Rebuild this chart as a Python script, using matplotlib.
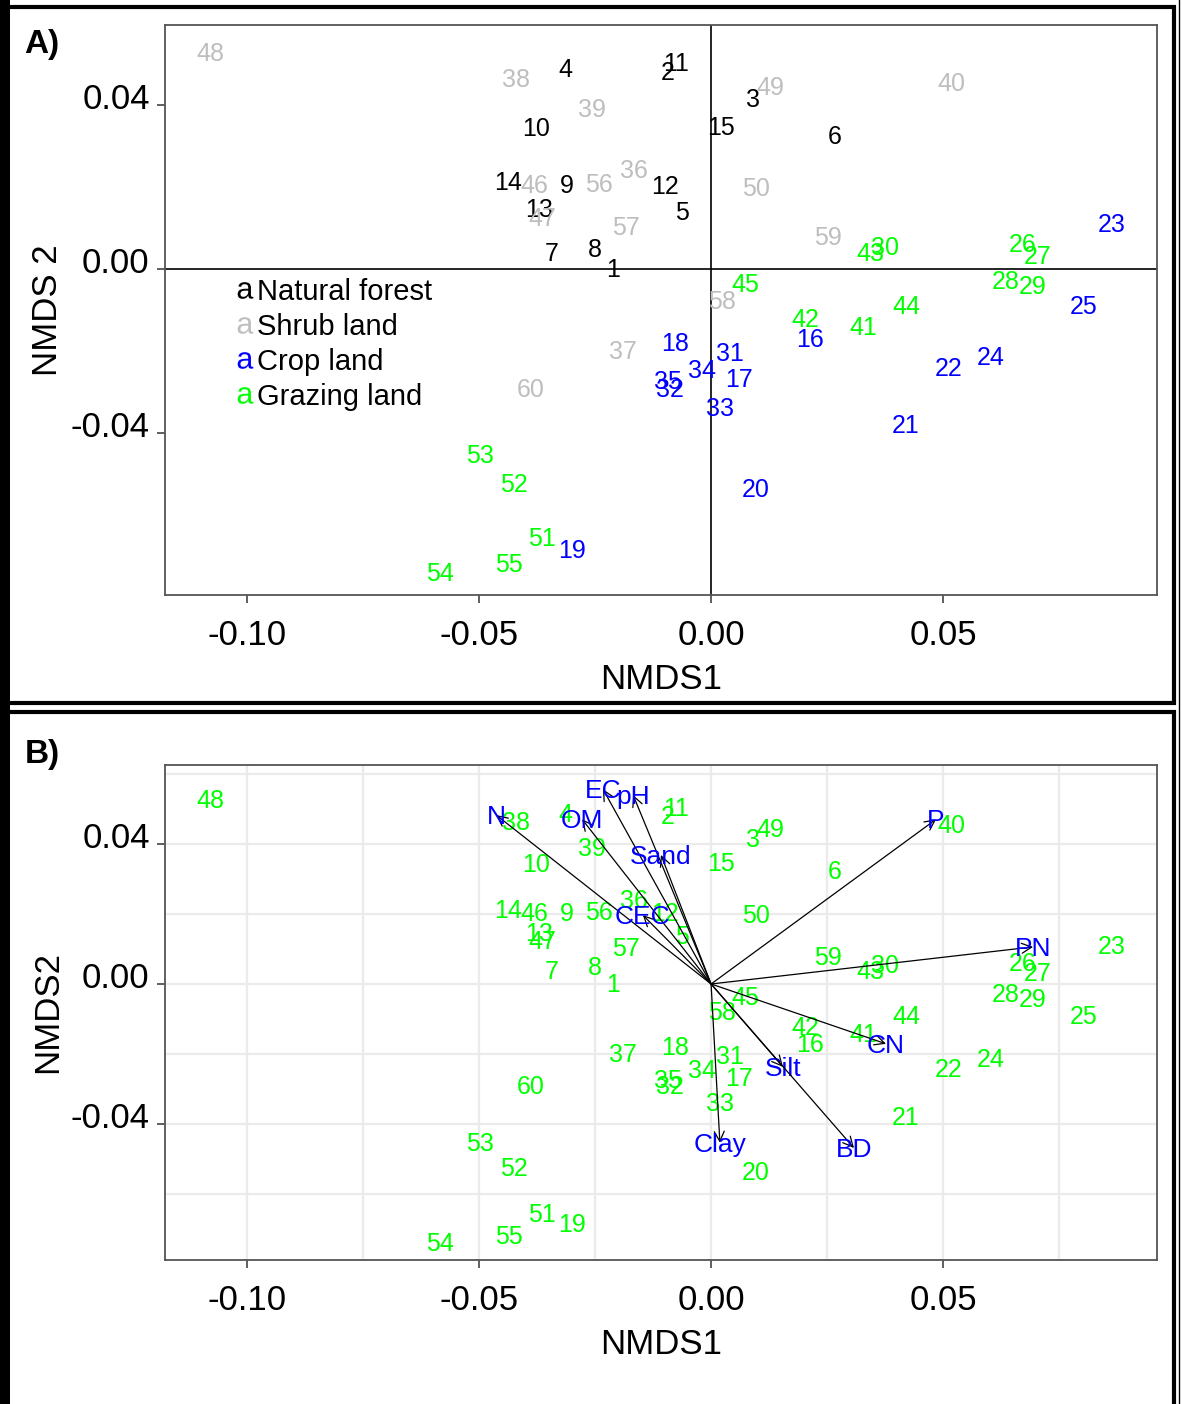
import numpy as np
import matplotlib
matplotlib.use('Agg')
import matplotlib.pyplot as plt
from matplotlib.lines import Line2D
from matplotlib.patches import Rectangle
import matplotlib.transforms as mtransforms

plt.rcParams['font.family'] = ['Liberation Sans', 'DejaVu Sans']
plt.rcParams['mathtext.fontset'] = 'custom'
plt.rcParams['mathtext.rm'] = 'Liberation Sans'

# site scores (NMDS1, NMDS2)
site_id = list(range(1, 61))
nmds1 = [-0.0211, -0.0093, 0.0091, -0.0315, -0.0063, 0.0267, -0.0343, -0.0250, -0.0310, -0.0377,
         -0.0075, -0.0099, -0.0371, -0.0438, 0.0022, 0.0213, 0.0060, -0.0078, -0.0300, 0.0097,
         0.0420, 0.0513, 0.0864, 0.0603, 0.0804, 0.0672, 0.0703, 0.0636, 0.0694, 0.0375,
         0.0041, -0.0088, 0.0019, -0.0019, -0.0093, -0.0166, -0.0190, -0.0420, -0.0256, 0.0519,
         0.0328, 0.0203, 0.0343, 0.0420, 0.0073, -0.0381, -0.0364, -0.1080, 0.0127, 0.0097,
         -0.0364, -0.0425, -0.0498, -0.0584, -0.0435, -0.0241, -0.0183, 0.0024, 0.0252, -0.0388]
nmds2 = [0.0002, 0.0483, 0.0417, 0.0490, 0.0141, 0.0327, 0.0041, 0.0051, 0.0207, 0.0346,
         0.0505, 0.0205, 0.0149, 0.0215, 0.0349, -0.0168, -0.0266, -0.0178, -0.0683, -0.0534,
         -0.0378, -0.0239, 0.0112, -0.0212, -0.0088, 0.0063, 0.0034, -0.0027, -0.0039, 0.0056,
         -0.0202, -0.0290, -0.0337, -0.0244, -0.0271, 0.0244, -0.0198, 0.0466, 0.0393, 0.0456,
         -0.0139, -0.0120, 0.0041, -0.0088, -0.0034, 0.0207, 0.0127, 0.0529, 0.0446, 0.0200,
         -0.0654, -0.0522, -0.0451, -0.0739, -0.0717, 0.0210, 0.0105, -0.0076, 0.0080, -0.0290]
landuse = (['Natural forest'] * 15 + ['Crop land'] * 10 + ['Grazing land'] * 5 +
           ['Crop land'] * 5 + ['Shrub land'] * 5 + ['Grazing land'] * 5 +
           ['Shrub land'] * 5 + ['Grazing land'] * 5 + ['Shrub land'] * 5)

groups = ['Natural forest', 'Shrub land', 'Crop land', 'Grazing land']
group_col = {'Natural forest': 'black', 'Shrub land': '#bebebe',
             'Crop land': '#0000ff', 'Grazing land': '#00ff00'}

# envfit vectors
env_names = ['N', 'OM', 'EC', 'pH', 'Sand', 'CEC', 'P', 'PN', 'CN', 'Silt', 'BD', 'Clay']
env_x = [-0.0463, -0.0278, -0.0233, -0.0168, -0.0108, -0.0147, 0.0485, 0.0694, 0.0377, 0.0155, 0.0308, 0.0019]
env_y = [0.0483, 0.0471, 0.0557, 0.0540, 0.0369, 0.0197, 0.0471, 0.0106, -0.0171, -0.0237, -0.0469, -0.0454]

fig = plt.figure(figsize=(11.82, 14.04), dpi=100)
axA = fig.add_axes([0.1396, 0.5762, 0.8392, 0.4060])
axB = fig.add_axes([0.1396, 0.1026, 0.8392, 0.3525])

ylab_shift = mtransforms.ScaledTranslation(0, 9 / 100, fig.dpi_scale_trans)
txt_shift = mtransforms.ScaledTranslation(0, -2 / 100, fig.dpi_scale_trans)


def style(ax, ylabel, ylim):
    ax.set_xlim(-0.1177, 0.0961)
    ax.set_ylim(*ylim)
    ax.set_xticks([-0.10, -0.05, 0.00, 0.05])
    ax.set_xticklabels(['-0.10', '-0.05', '0.00', '0.05'])
    ax.set_yticks([-0.04, 0.00, 0.04])
    ax.set_yticklabels(['-0.04', '0.00', '0.04'])
    ax.tick_params(axis='both', direction='out', length=6, width=1.2,
                   color='#444444', labelsize=25)
    ax.tick_params(axis='x', pad=11)
    ax.tick_params(axis='y', pad=5)
    for lab in ax.get_yticklabels():
        lab.set_transform(lab.get_transform() + ylab_shift)
    for sp in ax.spines.values():
        sp.set_color('#555555')
        sp.set_linewidth(1.3)
    ax.set_xlabel('NMDS1', fontsize=25, va='center')
    ax.set_ylabel(ylabel, fontsize=25, va='center')


# ---- panel A
style(axA, 'NMDS 2', (-0.0795, 0.0595))
axA.xaxis.set_label_coords(0.5, -0.149)
axA.yaxis.set_label_coords(-0.118, 0.5)
axA.axhline(0, color='black', lw=1.2)
axA.axvline(0, color='black', lw=1.2)
for sid, x, y, g in zip(site_id, nmds1, nmds2, landuse):
    axA.text(x, y, str(sid), color=group_col[g], fontsize=18, ha='center', va='center',
             transform=axA.transData + txt_shift)

handles = [Line2D([], [], marker=r'$\mathrm{a}$', color=group_col[g], linestyle='none',
                  markersize=12, markeredgewidth=0) for g in groups]
axA.legend(handles, groups, loc='upper left', bbox_to_anchor=(0.072, 0.556),
           frameon=False, fontsize=21, handlelength=0.6, handletextpad=0.12,
           labelspacing=0.24, borderaxespad=0, borderpad=0)

# ---- panel B
style(axB, 'NMDS2', (-0.0789, 0.0626))
axB.xaxis.set_label_coords(0.5, -0.171)
axB.yaxis.set_label_coords(-0.118, 0.5)
axB.set_xticks([-0.075, -0.025, 0.025, 0.075], minor=True)
axB.set_yticks([-0.06, -0.02, 0.02, 0.06], minor=True)
axB.tick_params(which='minor', length=0)
axB.grid(True, which='both', color='#ebebeb', lw=1.6)
axB.set_axisbelow(True)
for sid, x, y in zip(site_id, nmds1, nmds2):
    axB.text(x, y, str(sid), color='#00ff00', fontsize=18, ha='center', va='center',
             transform=axB.transData + txt_shift)
for name, ex, ey in zip(env_names, env_x, env_y):
    axB.annotate('', xy=(ex, ey), xytext=(0, 0),
                 arrowprops=dict(arrowstyle='->', color='black', lw=0.9,
                                 shrinkA=0, shrinkB=0, mutation_scale=18))
    axB.text(ex, ey, name, color='#0000ff', fontsize=19, ha='center', va='center',
             transform=axB.transData + txt_shift)

# panel tags and frames
fig.text(42 / 1182, 1 - 45 / 1404, 'A)', fontsize=24, fontweight='bold', ha='center', va='center')
fig.text(42 / 1182, 1 - 755 / 1404, 'B)', fontsize=24, fontweight='bold', ha='center', va='center')
fig.patches.append(Rectangle((5 / 1182, 1 - 703 / 1404), 1169 / 1182, 696 / 1404,
                             transform=fig.transFigure, fill=False, ec='black', lw=3))
fig.patches.append(Rectangle((5 / 1182, -0.01), 1169 / 1182, 1 - 712 / 1404 + 0.01,
                             transform=fig.transFigure, fill=False, ec='black', lw=3))
fig.patches.append(Rectangle((0, 0), 10 / 1182, 1, transform=fig.transFigure,
                             fc='black', ec='none'))
fig.add_artist(Line2D([1179 / 1182, 1179 / 1182], [0, 1], transform=fig.transFigure,
                      color='black', lw=1))

fig.savefig('out.png', dpi=100)
